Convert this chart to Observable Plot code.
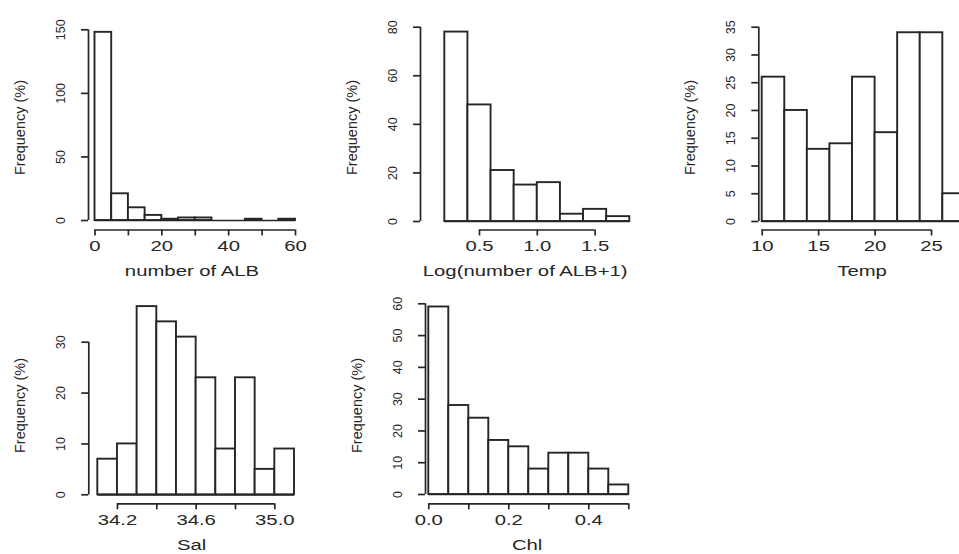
<!DOCTYPE html>
<html>
<head>
<meta charset="utf-8">
<script src="https://cdn.jsdelivr.net/npm/d3@7"></script>
<script src="https://cdn.jsdelivr.net/npm/@observablehq/plot@0.6"></script>
<style>
  html, body { margin: 0; padding: 0; background: #ffffff; }
  #wrap { position: relative; width: 959px; height: 554px; overflow: hidden; background: #ffffff; }
  #wrap svg { position: absolute; left: 0; top: 0; }
</style>
</head>
<body>
<div id="wrap"></div>
<script>
// ---------- data ----------
const alb_breaks = [0, 5, 10, 15, 20, 25, 30, 35, 40, 45, 50, 55, 60];
const alb_counts = [148, 21, 10, 4, 1, 2, 2, 0, 0, 1, 0, 1];
const alb_xticks = [0, 10, 20, 30, 40, 50, 60];
const alb_xlabels = [0, 20, 40, 60];
const alb_xlabelText = ["0", "20", "40", "60"];
const alb_yticks = [0, 50, 100, 150];

const logalb_breaks = [0.2, 0.4, 0.6, 0.8, 1.0, 1.2, 1.4, 1.6, 1.8];
const logalb_counts = [78, 48, 21, 15, 16, 3, 5, 2];
const logalb_xticks = [0.5, 1.0, 1.5];
const logalb_xlabels = [0.5, 1.0, 1.5];
const logalb_xlabelText = ["0.5", "1.0", "1.5"];
const logalb_yticks = [0, 20, 40, 60, 80];

const temp_breaks = [10, 12, 14, 16, 18, 20, 22, 24, 26, 28];
const temp_counts = [26, 20, 13, 14, 26, 16, 34, 34, 5];
const temp_xticks = [10, 15, 20, 25];
const temp_xlabels = [10, 15, 20, 25];
const temp_xlabelText = ["10", "15", "20", "25"];
const temp_yticks = [0, 5, 10, 15, 20, 25, 30, 35];

const sal_breaks = [34.1, 34.2, 34.3, 34.4, 34.5, 34.6, 34.7, 34.8, 34.9, 35.0, 35.1];
const sal_counts = [7, 10, 37, 34, 31, 23, 9, 23, 5, 9];
const sal_xticks = [34.2, 34.4, 34.6, 34.8, 35.0];
const sal_xlabels = [34.2, 34.6, 35.0];
const sal_xlabelText = ["34.2", "34.6", "35.0"];
const sal_yticks = [0, 10, 20, 30];

const chl_breaks = [0, 0.05, 0.1, 0.15, 0.2, 0.25, 0.3, 0.35, 0.4, 0.45, 0.5];
const chl_counts = [59, 28, 24, 17, 15, 8, 13, 13, 8, 3];
const chl_xticks = [0, 0.1, 0.2, 0.3, 0.4, 0.5];
const chl_xlabels = [0, 0.2, 0.4];
const chl_xlabelText = ["0.0", "0.2", "0.4"];
const chl_yticks = [0, 10, 20, 30, 40, 50, 60];

const yTitle = "Frequency (%)";
const xTitles = ["number of ALB", "Log(number of ALB+1)", "Temp", "Sal", "Chl"];

// ---------- layout (pixel frame of each panel) ----------
const W = 959, H = 554;
const FONT = "'Liberation Sans', Arial, sans-serif";
const INK = "#262626";
const STRETCH = 1.45;

const panels = [
  {breaks: alb_breaks, counts: alb_counts, xticks: alb_xticks, xlabels: alb_xlabels, xlabelText: alb_xlabelText, yticks: alb_yticks, title: xTitles[0],
   xPix: [94.5, 295], yPix: [220, 29.3], yAxisX: 88, xAxisY: 229.5, top: 24.5},
  {breaks: logalb_breaks, counts: logalb_counts, xticks: logalb_xticks, xlabels: logalb_xlabels, xlabelText: logalb_xlabelText, yticks: logalb_yticks, title: xTitles[1],
   xPix: [444.3, 629.3], yPix: [221, 26.7], yAxisX: 420, xAxisY: 229.5, top: 24.5},
  {breaks: temp_breaks, counts: temp_counts, xticks: temp_xticks, xlabels: temp_xlabels, xlabelText: temp_xlabelText, yticks: temp_yticks, title: xTitles[2],
   xPix: [761.7, 964.9], yPix: [221, 26.7], yAxisX: 758.3, xAxisY: 229.5, top: 24.5},
  {breaks: sal_breaks, counts: sal_counts, xticks: sal_xticks, xlabels: sal_xlabels, xlabelText: sal_xlabelText, yticks: sal_yticks, title: xTitles[3],
   xPix: [97.3, 294], yPix: [494.3, 341.7], yAxisX: 88.3, xAxisY: 503.3, top: 306.7},
  {breaks: chl_breaks, counts: chl_counts, xticks: chl_xticks, xlabels: chl_xlabels, xlabelText: chl_xlabelText, yticks: chl_yticks, title: xTitles[4],
   xPix: [428.3, 628.3], yPix: [494, 303.3], yAxisX: 425, xAxisY: 503.3, top: 306.7}
];

const wrap = document.getElementById("wrap");

for (const p of panels) {
  const b0 = p.breaks[0], b1 = p.breaks[p.breaks.length - 1];
  const kx = (p.xPix[1] - p.xPix[0]) / (b1 - b0);
  const xLeft = b0 - (p.xPix[0] - p.yAxisX) / kx;
  const rightPix = Math.min(p.xPix[1], W);
  const xRight = b0 + (rightPix - p.xPix[0]) / kx;
  const yTopTick = p.yticks[p.yticks.length - 1];
  const ky = (p.yPix[0] - p.yPix[1]) / yTopTick;
  const yBottom = -(p.xAxisY - p.yPix[0]) / ky;
  const yTop = (p.yPix[0] - p.top) / ky;
  const xMid = (xLeft + b1) / 2;

  const bins = p.counts.map((c, i) => ({x1: p.breaks[i], x2: p.breaks[i + 1], count: c}));
  const xlab = p.xlabels.map((v, i) => ({v, t: p.xlabelText[i]}));

  const svg = Plot.plot({
    width: W,
    height: H,
    marginLeft: p.yAxisX,
    marginRight: W - rightPix,
    marginTop: p.top,
    marginBottom: H - p.xAxisY,
    style: {background: "transparent", fontFamily: FONT, color: INK},
    x: {domain: [xLeft, xRight], axis: null},
    y: {domain: [yBottom, yTop], axis: null},
    marks: [
      Plot.ruleY([0], {x1: b0, x2: b1, stroke: INK, strokeWidth: 1.7}),
      Plot.rect(bins, {x1: "x1", x2: "x2", y1: 0, y2: "count", fill: "white", stroke: INK, strokeWidth: 1.9, inset: 0}),
      Plot.ruleY([yBottom], {x1: p.xticks[0], x2: p.xticks[p.xticks.length - 1], stroke: INK, strokeWidth: 1.7}),
      Plot.axisX({ticks: p.xticks, tickSize: 6, tickFormat: () => "", stroke: INK, strokeWidth: 1.7, label: null}),
      Plot.text(xlab, {x: "v", text: "t", frameAnchor: "bottom", dy: 17, lineAnchor: "middle", fontSize: 14, fill: INK}),
      Plot.text([p.title], {x: () => xMid, frameAnchor: "bottom", dy: 42, lineAnchor: "middle", fontSize: 14, fill: INK}),
      Plot.ruleX([xLeft], {y1: p.yticks[0], y2: yTopTick, stroke: INK, strokeWidth: 1.7}),
      Plot.axisY({ticks: p.yticks, tickSize: 7, tickFormat: () => "", stroke: INK, strokeWidth: 1.7, label: null}),
      Plot.text(p.yticks, {y: d => d, text: d => String(d), frameAnchor: "left", dx: -28, rotate: -90, textAnchor: "middle", lineAnchor: "middle", fontSize: 12.5, fill: INK}),
      Plot.text([yTitle], {frameAnchor: "left", dx: -68, rotate: -90, textAnchor: "middle", lineAnchor: "middle", fontSize: 14.5, fill: INK})
    ]
  });
  wrap.appendChild(svg);
  // widen the horizontal (unrotated) texts: the reference is stretched horizontally
  svg.querySelectorAll("text").forEach(t => {
    const tr = t.getAttribute("transform") || "";
    if (tr.includes("rotate")) return;
    if (!t.textContent.trim()) return;
    const len = t.getComputedTextLength();
    if (len > 0) {
      t.setAttribute("textLength", (len * STRETCH).toFixed(1));
      t.setAttribute("lengthAdjust", "spacingAndGlyphs");
    }
  });
}
</script>
</body>
</html>
